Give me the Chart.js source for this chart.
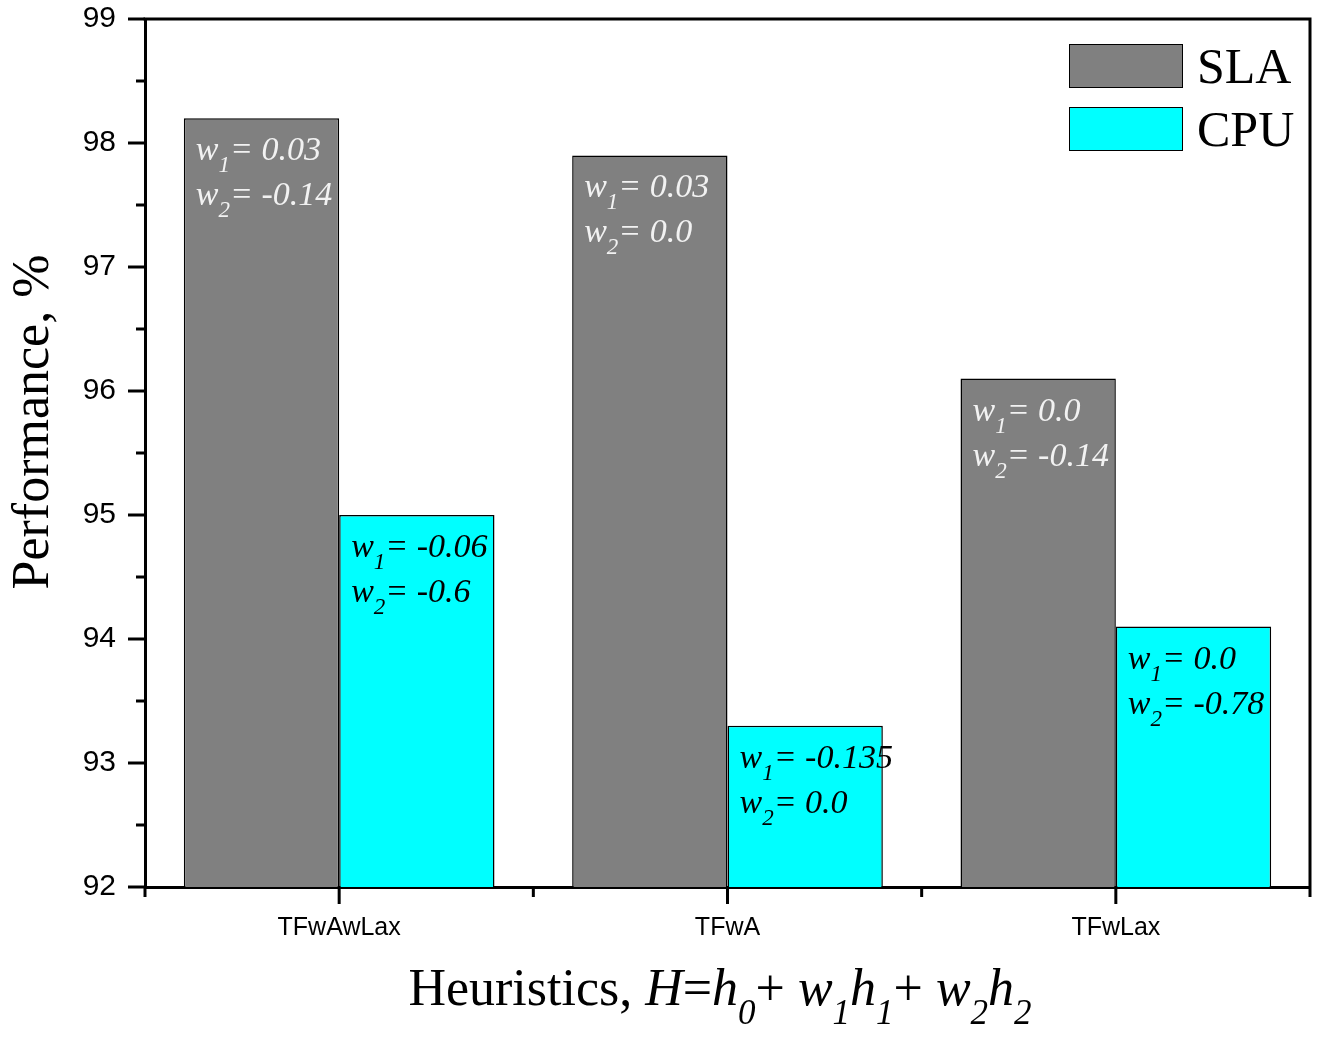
<!DOCTYPE html>
<html>
<head>
<meta charset="utf-8">
<script src="https://cdn.jsdelivr.net/npm/chart.js@4/dist/chart.umd.min.js"></script>
<style>
html,body{margin:0;padding:0;background:#fff;}
#wrap{width:1317px;height:1038px;position:relative;}
</style>
</head>
<body>
<div id="wrap"><canvas id="c" width="1317" height="1038"></canvas></div>
<script>
const categories = ['TFwAwLax', 'TFwA', 'TFwLax'];
const seriesNames = ['SLA', 'CPU'];
const slaValues = [98.2, 97.9, 96.1];
const cpuValues = [95.0, 93.3, 94.1];
const slaW1 = ['0.03', '0.03', '0.0'];
const slaW2 = ['-0.14', '0.0', '-0.14'];
const cpuW1 = ['-0.06', '-0.135', '0.0'];
const cpuW2 = ['-0.6', '0.0', '-0.78'];
const yMin = 92, yMax = 99, yStep = 1, yMinorStep = 0.5;

const SERIF = '"Liberation Serif", "Times New Roman", serif';
const SANS = '"Liberation Sans", Arial, sans-serif';
const colors = ['#808080', '#00ffff'];
const labelColors = ['#f2f2f2', '#000000'];
const weightLabels = [[slaW1, slaW2], [cpuW1, cpuW2]];

function drawSegments(ctx, segs, x, y) {
  let cx = x;
  for (const [t, st] of segs) {
    ctx.font = st.font;
    ctx.fillText(t, cx, y + (st.dy || 0));
    cx += ctx.measureText(t).width;
  }
  return cx - x;
}
function measureSegments(ctx, segs) {
  let w = 0;
  for (const [t, st] of segs) { ctx.font = st.font; w += ctx.measureText(t).width; }
  return w;
}

const decor = {
  id: 'decor',
  afterDraw(chart) {
    const ctx = chart.ctx;
    const a = chart.chartArea;
    const xs = chart.scales.x, ys = chart.scales.y;
    ctx.save();
    ctx.strokeStyle = '#000';
    ctx.lineWidth = 3;
    ctx.beginPath();
    ctx.moveTo(a.left - 1.5, a.top); ctx.lineTo(a.right, a.top); ctx.lineTo(a.right, a.bottom);
    ctx.stroke();
    for (let v = yMin; v <= yMax + 1e-9; v += yMinorStep) {
      const py = ys.getPixelForValue(v);
      const major = Math.abs(v - Math.round(v)) < 1e-9;
      const len = major ? 17 : 9;
      ctx.beginPath(); ctx.moveTo(a.left - len, py); ctx.lineTo(a.left, py); ctx.stroke();
    }
    const n = categories.length;
    for (let i = 0; i < n; i++) {
      const px = xs.getPixelForValue(i);
      ctx.beginPath(); ctx.moveTo(px, a.bottom); ctx.lineTo(px, a.bottom + 17); ctx.stroke();
    }
    for (let i = 0; i <= n; i++) {
      const px = a.left + (a.right - a.left) * i / n;
      ctx.beginPath(); ctx.moveTo(px, a.bottom); ctx.lineTo(px, a.bottom + 10); ctx.stroke();
    }
    const big = { font: 'italic 34px ' + SERIF };
    const sub = { font: 'italic 23px ' + SERIF, dy: 12 };
    ctx.textBaseline = 'alphabetic';
    ctx.textAlign = 'left';
    chart.data.datasets.forEach((ds, di) => {
      const meta = chart.getDatasetMeta(di);
      ctx.fillStyle = labelColors[di];
      meta.data.forEach((bar, i) => {
        const lx = bar.x - bar.width / 2 + 12;
        const top = bar.y;
        const w1 = weightLabels[di][0][i], w2 = weightLabels[di][1][i];
        drawSegments(ctx, [['w', big], ['1', sub], ['= ' + w1, big]], lx, top + 42);
        drawSegments(ctx, [['w', big], ['2', sub], ['= ' + w2, big]], lx, top + 87);
      });
    });
    ctx.lineWidth = 1;
    chart.data.datasets.forEach((ds, di) => {
      const by = 44 + di * 63;
      ctx.fillStyle = ds.backgroundColor;
      ctx.fillRect(1069, by, 114, 44);
      ctx.strokeStyle = '#000';
      ctx.strokeRect(1069.5, by + 0.5, 113, 43);
      ctx.fillStyle = '#000';
      ctx.font = '50px ' + SERIF;
      ctx.textBaseline = 'alphabetic';
      ctx.fillText(ds.label, 1197, by + 39);
    });
    ctx.save();
    ctx.translate(48, 422);
    ctx.rotate(-Math.PI / 2);
    ctx.font = '52px ' + SERIF;
    ctx.textAlign = 'center';
    ctx.fillStyle = '#000';
    ctx.fillText('Performance, %', 0, 0);
    ctx.restore();
    const N = { font: '52px ' + SERIF };
    const I = { font: 'italic 52px ' + SERIF };
    const S = { font: 'italic 35px ' + SERIF, dy: 19 };
    const segs = [['Heuristics, ', N], ['H', I], ['=', N], ['h', I], ['0', S], ['+ ', N],
      ['w', I], ['1', S], ['h', I], ['1', S], ['+ ', N], ['w', I], ['2', S], ['h', I], ['2', S]];
    ctx.fillStyle = '#000';
    ctx.textAlign = 'left';
    const tw = measureSegments(ctx, segs);
    drawSegments(ctx, segs, 720 - tw / 2, 1005);
    ctx.restore();
  }
};

new Chart(document.getElementById('c'), {
  type: 'bar',
  data: {
    labels: categories,
    datasets: [
      { label: seriesNames[0], data: slaValues, backgroundColor: colors[0], borderColor: '#000', borderWidth: 1.5 },
      { label: seriesNames[1], data: cpuValues, backgroundColor: colors[1], borderColor: '#000', borderWidth: 1.5 }
    ]
  },
  options: {
    responsive: false,
    animation: false,
    events: [],
    layout: { padding: { top: 19, right: 7, left: 0, bottom: 0 } },
    categoryPercentage: 0.8,
    barPercentage: 1.0,
    plugins: { legend: { display: false }, tooltip: { enabled: false }, title: { display: false } },
    scales: {
      x: {
        type: 'category',
        grid: { display: false, drawTicks: false },
        border: { display: true, color: '#000', width: 3 },
        ticks: { font: { family: SANS, size: 25 }, color: '#000', padding: 26 },
        afterFit(s) { s.height = 151; s.paddingLeft = 0; s.paddingRight = 0; }
      },
      y: {
        min: yMin, max: yMax,
        grid: { display: false, drawTicks: false },
        border: { display: true, color: '#000', width: 3 },
        ticks: { stepSize: yStep, font: { family: SANS, size: 30 }, color: '#000', padding: 29 },
        afterFit(s) { s.width = 145; s.paddingTop = 0; s.paddingBottom = 0; }
      }
    }
  },
  plugins: [decor]
});
</script>
</body>
</html>
